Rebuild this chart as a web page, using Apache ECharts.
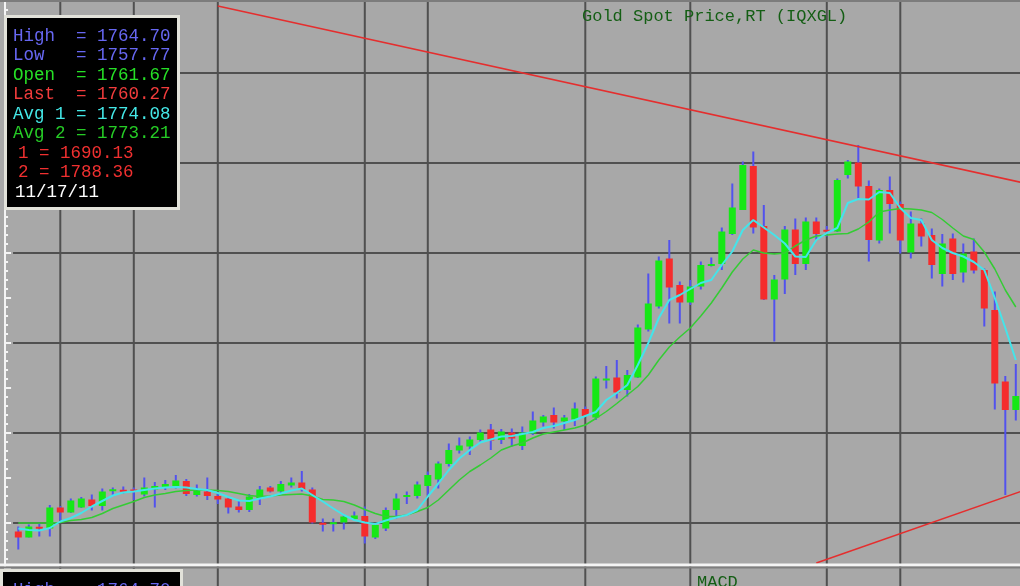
<!DOCTYPE html>
<html>
<head>
<meta charset="utf-8">
<script src="https://cdn.jsdelivr.net/npm/echarts@6/dist/echarts.min.js"></script>
<style>
html,body{margin:0;padding:0;background:#a8a8a8;}
#chart{width:1020px;height:586px;}
</style>
</head>
<body>
<div id="chart"></div>
<script>
// ---- data (prices) ----
const openP = [1708.3,1707.1,1709.2,1708.9,1713.1,1712.1,1713.1,1714.7,1713.4,1716.4,
1716.6,1716.7,1715.7,1716.7,1717.1,1717.4,1718.4,1715.6,1716.3,1715.4,
1714.9,1713.3,1712.6,1714.9,1717.1,1716.3,1717.5,1718.1,1716.7,1710.0,
1709.8,1710.1,1710.8,1711.4,1707.1,1708.9,1712.6,1715.2,1715.4,1717.4,
1718.7,1721.8,1724.5,1725.3,1726.6,1728.7,1726.6,1728.1,1725.4,1727.9,
1730.1,1731.6,1730.3,1730.7,1732.8,1731.1,1738.5,1739.1,1736.6,1739.1,
1748.7,1753.3,1762.9,1757.6,1754.1,1757.3,1761.4,1761.8,1767.8,1772.6,
1781.4,1769.4,1754.7,1758.7,1768.7,1761.8,1770.3,1768.6,1768.3,1779.6,
1782.1,1777.4,1766.5,1776.6,1773.8,1764.1,1769.9,1767.6,1759.8,1766.9,
1760.1,1764.3,1760.6,1752.6,1738.3,1732.6];
const highP = [1709.3,1709.7,1709.9,1713.6,1713.4,1714.9,1715.2,1715.7,1716.9,1717.1,
1717.3,1717.1,1719.1,1718.2,1718.6,1719.6,1718.8,1717.7,1719.1,1715.9,
1715.3,1714.6,1715.8,1717.4,1717.4,1718.4,1719.1,1720.4,1717.1,1710.9,
1710.9,1711.7,1712.3,1713.3,1710.0,1713.1,1715.9,1716.3,1718.3,1720.3,
1722.3,1725.9,1727.1,1727.3,1728.7,1729.8,1728.8,1728.9,1729.3,1732.3,
1731.6,1733.1,1731.6,1734.1,1733.3,1739.3,1741.4,1742.6,1740.6,1749.7,
1759.9,1763.3,1766.6,1758.3,1758.6,1762.3,1763.1,1769.1,1777.9,1782.3,
1784.3,1773.6,1759.6,1769.4,1770.9,1771.1,1771.1,1769.4,1778.9,1782.6,
1785.6,1778.5,1776.9,1779.3,1774.3,1772.3,1770.9,1768.9,1767.8,1767.9,
1765.9,1766.9,1760.9,1756.3,1739.4,1741.8];
const lowP = [1704.7,1707.1,1707.3,1707.3,1710.6,1712.0,1713.0,1712.5,1712.5,1715.6,
1715.9,1714.6,1715.3,1713.1,1716.6,1716.9,1715.4,1715.3,1714.6,1713.8,
1711.9,1712.1,1712.2,1713.6,1716.1,1715.9,1717.1,1716.3,1709.9,1708.3,
1708.3,1708.7,1710.6,1705.9,1706.8,1708.4,1710.9,1713.8,1714.9,1715.6,
1716.9,1721.3,1723.9,1723.6,1726.3,1724.6,1725.8,1725.3,1724.6,1727.6,
1729.3,1728.9,1728.6,1729.4,1731.3,1730.6,1736.9,1734.9,1735.3,1739.0,
1748.3,1752.9,1749.9,1749.9,1753.6,1756.7,1761.3,1760.6,1767.6,1772.6,
1767.9,1754.6,1746.3,1755.8,1759.6,1760.6,1766.6,1767.3,1768.2,1778.9,
1774.6,1762.3,1765.9,1767.9,1763.9,1762.9,1765.3,1758.9,1757.3,1758.6,
1758.1,1759.9,1749.3,1732.7,1715.6,1730.5];
const closeP = [1707.1,1709.3,1708.9,1713.1,1712.1,1714.5,1714.9,1713.4,1716.3,1716.7,
1716.3,1716.2,1717.1,1717.4,1717.8,1718.5,1715.8,1716.5,1715.4,1714.7,
1713.1,1712.6,1715.3,1716.7,1716.3,1717.8,1718.1,1716.6,1710.1,1709.7,
1710.1,1711.3,1711.5,1707.3,1709.6,1712.6,1714.9,1715.6,1717.7,1719.6,
1721.9,1724.6,1725.5,1726.7,1728.1,1726.5,1728.3,1726.9,1728.1,1730.5,
1731.3,1730.1,1731.1,1732.9,1731.4,1738.9,1738.9,1736.1,1739.6,1749.1,
1753.9,1762.5,1757.1,1754.1,1757.3,1761.6,1761.8,1768.3,1773.1,1781.6,
1769.1,1754.7,1758.7,1768.7,1761.8,1770.3,1767.8,1768.3,1778.6,1782.3,
1777.3,1766.6,1776.6,1773.8,1766.5,1769.9,1767.3,1761.6,1765.9,1759.8,
1763.9,1760.5,1752.9,1737.9,1732.6,1735.4];
const avg1 = [1708.9,1708.6,1708.5,1709.0,1710.3,1711.0,1712.0,1713.3,1714.4,1715.5,
1716.1,1716.3,1716.6,1716.9,1717.1,1717.2,1717.1,1716.8,1716.6,1716.0,
1715.2,1714.5,1714.4,1714.9,1715.3,1715.9,1716.5,1716.9,1715.6,1714.3,
1712.9,1711.6,1710.6,1710.1,1709.8,1710.5,1711.1,1711.6,1712.6,1715.3,
1717.9,1720.6,1722.9,1724.6,1726.1,1726.7,1727.3,1727.4,1727.8,1728.2,
1729.0,1729.4,1730.0,1730.6,1731.4,1732.2,1734.6,1736.0,1737.6,1741.6,
1746.0,1751.0,1754.6,1755.6,1756.8,1758.0,1758.6,1761.6,1764.3,1768.6,
1770.6,1769.1,1767.6,1765.9,1763.3,1763.2,1766.6,1768.0,1769.0,1774.0,
1774.8,1774.7,1776.2,1776.0,1773.0,1771.0,1770.6,1766.6,1765.0,1764.0,
1763.3,1762.2,1760.6,1755.0,1749.0,1742.6];
const avg2 = [1710.0,1710.0,1710.0,1710.0,1710.1,1710.5,1710.7,1711.1,1711.9,1712.9,
1713.6,1714.3,1715.1,1715.6,1715.9,1716.3,1716.5,1716.6,1716.6,1716.5,
1716.3,1715.9,1715.5,1715.3,1715.4,1715.6,1715.7,1715.8,1715.4,1714.7,
1714.6,1714.3,1713.6,1712.7,1711.9,1711.3,1711.3,1711.6,1712.3,1713.1,
1714.6,1716.6,1718.6,1720.3,1721.6,1723.0,1724.6,1725.4,1726.0,1727.0,
1727.8,1728.2,1728.6,1729.0,1729.6,1730.9,1732.3,1733.9,1735.6,1737.3,
1739.6,1742.6,1745.2,1747.2,1749.0,1751.4,1754.0,1757.0,1760.2,1762.8,
1764.6,1764.0,1763.8,1764.0,1765.4,1766.6,1767.4,1767.6,1767.8,1767.9,
1768.8,1770.2,1772.2,1772.6,1772.9,1772.8,1772.6,1772.1,1770.7,1769.0,
1767.4,1766.7,1764.2,1760.8,1756.6,1753.2];
// trend lines: bar index and price at each end
const trend1X = [19, 96];
const trend1Y = [1813.4, 1777.9];
const trend2X = [76, 96];
const trend2Y = [1702.0, 1716.7];
// bars where a vertical grid line is drawn
const gridBars = [4, 11, 19, 33, 39, 54, 64, 77, 84];
// y-axis scale
const yMin = 1692, yMax = 1818, yStep = 18;
// info box texts
const infoLines = [
  ['High  = 1764.70', '#6767f2'],
  ['Low   = 1757.77', '#6767f2'],
  ['Open  = 1761.67', '#26e026'],
  ['Last  = 1760.27', '#f23c3c'],
  ['Avg 1 = 1774.08', '#44e8e8'],
  ['Avg 2 = 1773.21', '#26cc26']
];
const lineInfo = [['1 = 1690.13', '#f03030'], ['2 = 1788.36', '#f03030']];
const infoDate = '11/17/11';
const titleText = 'Gold Spot Price,RT (IQXGL)';
const lowerTitle = 'MACD';

// ---- chart ----
const chart = echarts.init(document.getElementById('chart'), null, {renderer: 'canvas'});
const candleData = openP.map((o, i) => [i, o, closeP[i], lowP[i], highP[i]]);
const MONO = '"Liberation Mono", "DejaVu Sans Mono", monospace';

const graphics = [];
graphics.push({type: 'rect', z: 100, shape: {x: 0, y: 0, width: 1020, height: 2}, style: {fill: '#7c7c7c'}});
// info box
graphics.push({type: 'rect', z: 100, shape: {x: 4, y: 15, width: 176, height: 195}, style: {fill: '#e2e2da'}});
graphics.push({type: 'rect', z: 101, shape: {x: 7, y: 18, width: 170, height: 189}, style: {fill: '#000000'}});
infoLines.forEach((l, k) => {
  graphics.push({type: 'text', z: 102, x: 13, y: 36 + k * 19.5,
    style: {text: l[0], fill: l[1], font: '17.5px ' + MONO, align: 'left', verticalAlign: 'middle'}});
});
lineInfo.forEach((l, k) => {
  graphics.push({type: 'text', z: 102, x: 18, y: 153 + k * 19.5,
    style: {text: l[0], fill: l[1], font: '17.5px ' + MONO, align: 'left', verticalAlign: 'middle'}});
});
graphics.push({type: 'text', z: 102, x: 15, y: 192,
  style: {text: infoDate, fill: '#ffffff', font: '17.5px ' + MONO, align: 'left', verticalAlign: 'middle'}});
// title
graphics.push({type: 'text', z: 50, x: 582, y: 16,
  style: {text: titleText, fill: '#145e14', font: '17px ' + MONO, align: 'left', verticalAlign: 'middle'}});
// separator to lower panel
graphics.push({type: 'rect', z: 100, shape: {x: 0, y: 563.5, width: 1020, height: 3}, style: {fill: '#f4f4f4'}});
graphics.push({type: 'rect', z: 100, shape: {x: 0, y: 566.5, width: 1020, height: 2}, style: {fill: '#7e7e7e'}});
// lower panel box
graphics.push({type: 'rect', z: 100, shape: {x: 0, y: 569, width: 183, height: 20}, style: {fill: '#e2e2da'}});
graphics.push({type: 'rect', z: 101, shape: {x: 3, y: 572, width: 177, height: 20}, style: {fill: '#000000'}});
graphics.push({type: 'text', z: 102, x: 13, y: 581,
  style: {text: 'High  = 1764.70', fill: '#6767f2', font: '17.5px ' + MONO, align: 'left', verticalAlign: 'top'}});
graphics.push({type: 'text', z: 100, x: 697, y: 574,
  style: {text: lowerTitle, fill: '#145e14', font: '17px ' + MONO, align: 'left', verticalAlign: 'top'}});

const tickStyle = {color: '#f4f4f4', width: 2};
const option = {
  animation: false,
  backgroundColor: '#a8a8a8',
  grid: {left: 13.05, top: -17, width: 1008, height: 630, show: false, outerBoundsMode: 'none', containLabel: false},
  xAxis: {type: 'value', min: -0.5, max: 95.5, show: false},
  yAxis: [
    {type: 'value', min: yMin, max: yMax, interval: yStep, offset: 8, position: 'left',
      axisLine: {show: true, onZero: false, lineStyle: tickStyle},
      axisTick: {show: true, inside: true, length: 6, lineStyle: tickStyle},
      axisLabel: {show: false},
      splitLine: {show: true, lineStyle: {color: '#505050', width: 2}}},
    {type: 'value', min: yMin, max: yMax, interval: yStep / 2, offset: 8, position: 'left',
      axisLine: {show: false, onZero: false},
      axisTick: {show: true, inside: true, length: 6, lineStyle: tickStyle},
      axisLabel: {show: false}, splitLine: {show: false}},
    {type: 'value', min: yMin, max: yMax, interval: yStep / 10, offset: 8, position: 'left',
      axisLine: {show: false, onZero: false},
      axisTick: {show: true, inside: true, length: 3, lineStyle: tickStyle},
      axisLabel: {show: false}, splitLine: {show: false}}
  ],
  graphic: graphics,
  series: [
    {type: 'custom', z: 1, silent: true, data: gridBars.map(b => [b, yMin]), encode: {x: 0, y: 1},
      renderItem: function (params, api) {
        const p = api.coord([api.value(0), api.value(1)]);
        const cs = params.coordSys;
        return {type: 'line', shape: {x1: p[0], y1: cs.y, x2: p[0], y2: cs.y + cs.height},
          style: {stroke: '#505050', lineWidth: 2}};
      }},
    {type: 'custom', z: 2, silent: true, data: candleData, encode: {x: 0, y: [1, 2, 3, 4]},
      renderItem: function (params, api) {
        const i = api.value(0), o = api.value(1), c = api.value(2), l = api.value(3), h = api.value(4);
        const pO = api.coord([i, o]), pC = api.coord([i, c]);
        const pL = api.coord([i, l]), pH = api.coord([i, h]);
        let top = Math.min(pO[1], pC[1]), bot = Math.max(pO[1], pC[1]);
        if (bot - top < 2) { const m = (top + bot) / 2; top = m - 1; bot = m + 1; }
        const w = 7;
        return {type: 'group', children: [
          {type: 'line', shape: {x1: pH[0], y1: pH[1], x2: pL[0], y2: pL[1]},
            style: {stroke: '#5252ee', lineWidth: 2}},
          {type: 'rect', shape: {x: pO[0] - w / 2, y: top, width: w, height: bot - top},
            style: {fill: c >= o ? '#16e816' : '#f52c2c'}}
        ]};
      }},
    {type: 'line', z: 3, silent: true, showSymbol: false, data: avg2.map((v, i) => [i, v]),
      lineStyle: {color: '#34cc34', width: 1.5}},
    {type: 'line', z: 4, silent: true, showSymbol: false, data: avg1.map((v, i) => [i, v]),
      lineStyle: {color: '#44e4ea', width: 2}},
    {type: 'line', z: 5, silent: true, showSymbol: false, data: trend1X.map((x, k) => [x, trend1Y[k]]),
      lineStyle: {color: '#e52e2e', width: 1.5}},
    {type: 'line', z: 5, silent: true, showSymbol: false, data: trend2X.map((x, k) => [x, trend2Y[k]]),
      lineStyle: {color: '#e52e2e', width: 1.5}}
  ]
};
chart.setOption(option);
</script>
</body>
</html>
